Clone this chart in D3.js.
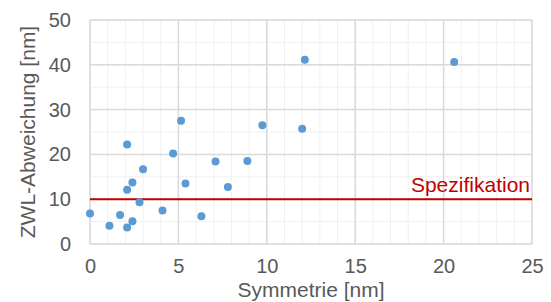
<!DOCTYPE html>
<html>
<head>
<meta charset="utf-8">
<script src="https://cdn.jsdelivr.net/npm/d3@7"></script>
<style>
  body { margin: 0; background: #fff; }
  text { font-family: "Liberation Sans", Arial, sans-serif; fill: #595959; }
</style>
</head>
<body>
<div id="main"></div>
<script>
// data
var symmetrie = [0.0, 1.1, 1.7, 2.1, 2.4, 2.1, 2.4, 2.1, 2.8, 3.0, 4.1, 4.7, 5.15, 5.4, 6.3, 7.1, 7.8, 8.9, 9.75, 12.0, 12.15, 20.6];
var abweichung = [6.8, 4.1, 6.5, 3.7, 5.1, 12.1, 13.7, 22.2, 9.3, 16.7, 7.5, 20.2, 27.5, 13.5, 6.2, 18.4, 12.7, 18.5, 26.5, 25.7, 41.1, 40.6];
var xTicks = [0, 5, 10, 15, 20, 25];
var yTicks = [0, 10, 20, 30, 40, 50];
var spezifikation = 10;

var svgWidth = 551;
var svgHeight = 302;
var padding = { t: 20, r: 19, b: 58, l: 90 };

var cellWidth = svgWidth - padding.l - padding.r;
var cellHeight = svgHeight - padding.t - padding.b;

var svg = d3.select('#main')
  .append('svg')
  .attr('width', svgWidth)
  .attr('height', svgHeight);

var chartG = svg.append('g')
  .attr('transform', 'translate(' + [padding.l, padding.t] + ')');

var xScale = d3.scaleLinear().domain([0, 25]).range([0, cellWidth]);
var yScale = d3.scaleLinear().domain([0, 50]).range([cellHeight, 0]);

// minor gridlines
chartG.append('g')
  .selectAll('line')
  .data(d3.range(0, 26, 1))
  .enter()
  .append('line')
  .attr('x1', (d) => xScale(d)).attr('x2', (d) => xScale(d))
  .attr('y1', 0).attr('y2', cellHeight)
  .attr('stroke', '#f0f0f0').attr('stroke-width', 1);

chartG.append('g')
  .selectAll('line')
  .data(d3.range(0, 51, 5))
  .enter()
  .append('line')
  .attr('y1', (d) => yScale(d)).attr('y2', (d) => yScale(d))
  .attr('x1', 0).attr('x2', cellWidth)
  .attr('stroke', '#f0f0f0').attr('stroke-width', 1);

// major gridlines
chartG.append('g')
  .selectAll('line')
  .data(xTicks)
  .enter()
  .append('line')
  .attr('x1', (d) => xScale(d)).attr('x2', (d) => xScale(d))
  .attr('y1', 0).attr('y2', cellHeight)
  .attr('stroke', '#d9d9d9').attr('stroke-width', 1.5);

chartG.append('g')
  .selectAll('line')
  .data(yTicks)
  .enter()
  .append('line')
  .attr('y1', (d) => yScale(d)).attr('y2', (d) => yScale(d))
  .attr('x1', 0).attr('x2', cellWidth)
  .attr('stroke', '#d9d9d9').attr('stroke-width', 1.5);

// axes (labels only)
var xAxis = d3.axisBottom(xScale).tickValues(xTicks).tickSize(0).tickPadding(15);
chartG.append('g')
  .attr('transform', 'translate(' + [0, cellHeight] + ')')
  .call(xAxis)
  .call((g) => g.select('.domain').remove())
  .selectAll('text')
  .style('font-size', '20px')
  .attr('fill', '#595959');

var yAxis = d3.axisLeft(yScale).tickValues(yTicks).tickSize(0).tickPadding(19);
chartG.append('g')
  .call(yAxis)
  .call((g) => g.select('.domain').remove())
  .selectAll('text')
  .style('font-size', '20px')
  .attr('fill', '#595959');

// specification line
chartG.append('line')
  .attr('x1', 0).attr('x2', cellWidth)
  .attr('y1', yScale(spezifikation)).attr('y2', yScale(spezifikation))
  .attr('stroke', '#c00000').attr('stroke-width', 2);

chartG.append('text')
  .text('Spezifikation')
  .attr('x', cellWidth - 2)
  .attr('y', yScale(spezifikation) - 7)
  .attr('text-anchor', 'end')
  .style('font-size', '21px')
  .style('fill', '#c00000');

// points
var pts = d3.zip(symmetrie, abweichung);
chartG.append('g')
  .selectAll('circle')
  .data(pts)
  .enter()
  .append('circle')
  .attr('cx', (d) => xScale(d[0]))
  .attr('cy', (d) => yScale(d[1]))
  .attr('r', 4)
  .attr('fill', '#5b9bd5');

// axis titles
svg.append('text')
  .text('Symmetrie [nm]')
  .attr('x', padding.l + cellWidth / 2)
  .attr('y', 297)
  .attr('text-anchor', 'middle')
  .style('font-size', '21px');

svg.append('text')
  .text('ZWL-Abweichung [nm]')
  .attr('transform', 'translate(' + [35, padding.t + cellHeight / 2] + ') rotate(-90)')
  .attr('text-anchor', 'middle')
  .style('font-size', '21px');
</script>
</body>
</html>
